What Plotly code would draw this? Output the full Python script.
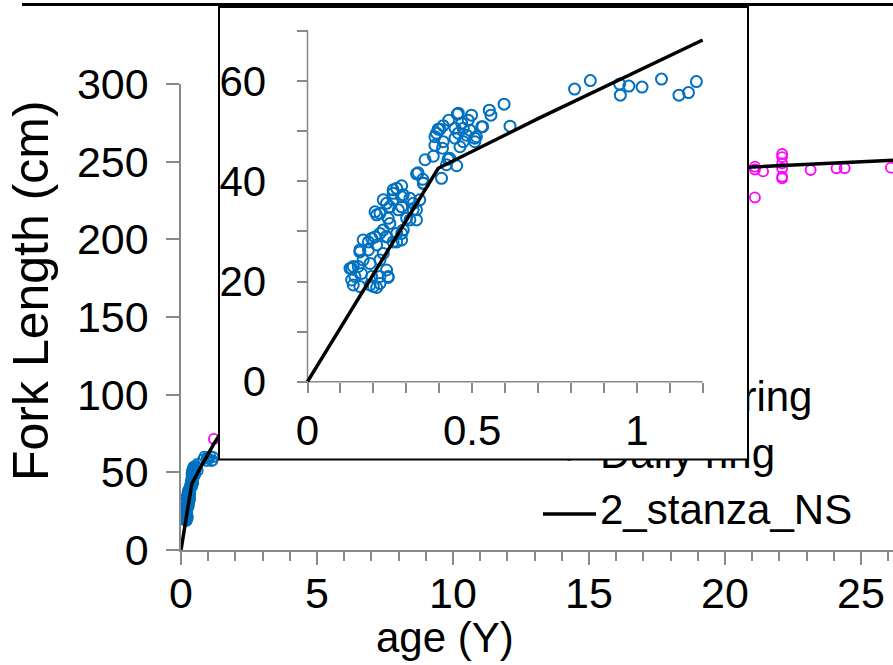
import plotly.graph_objects as go

# ---------------- data ----------------
daily_age = [0.532, 0.552, 0.557, 0.597, 0.615, 0.811, 0.859, 0.948, 0.950, 0.976, 1.016, 1.075, 1.128, 1.157, 1.181,
             0.458, 0.498, 0.488, 0.529, 0.429, 0.412, 0.397, 0.392, 0.448, 0.468, 0.473, 0.493, 0.458, 0.483, 0.508,
             0.448, 0.473, 0.463, 0.508, 0.387, 0.412, 0.387, 0.410, 0.382, 0.357, 0.427, 0.422, 0.453, 0.336, 0.350,
             0.407, 0.352, 0.286, 0.432, 0.455, 0.513, 0.402,
             0.260, 0.271, 0.230, 0.240, 0.260, 0.286, 0.311, 0.341, 0.205, 0.210, 0.286, 0.321, 0.331, 0.301, 0.245,
             0.169, 0.185, 0.230, 0.205, 0.271, 0.291, 0.286,
             0.331, 0.352, 0.260, 0.291, 0.220, 0.250, 0.276, 0.321, 0.311, 0.250, 0.195, 0.220, 0.240, 0.159, 0.185,
             0.210, 0.230, 0.271, 0.169, 0.154, 0.190, 0.220, 0.240, 0.134, 0.144, 0.164, 0.195, 0.220, 0.245, 0.139,
             0.159, 0.190, 0.210, 0.220, 0.129, 0.134, 0.200, 0.245, 0.240, 0.260, 0.331, 0.286, 0.159, 0.139]
daily_fl = [50.9, 54.2, 53.2, 55.4, 51.0, 58.4, 60.1, 59.4, 57.2, 59.0, 58.8, 60.4, 57.2, 57.7, 59.9,
            53.6, 53.2, 52.2, 50.9, 52.2, 51.1, 50.4, 49.6, 50.6, 51.6, 50.6, 50.2, 49.6, 49.2, 48.6,
            48.6, 47.9, 46.9, 47.9, 48.9, 47.9, 47.2, 46.6, 45.0, 44.3, 44.4, 43.3, 43.1, 41.7, 40.4,
            40.6, 39.6, 39.1, 44.6, 53.4, 48.9, 50.4,
            38.3, 38.6, 36.3, 35.6, 36.3, 36.9, 36.6, 36.3, 33.9, 33.3, 34.9, 34.3, 32.3, 32.6, 32.6,
            28.3, 27.9, 30.3, 28.9, 29.6, 30.3, 28.3,
            41.5, 39.6, 37.6, 37.3, 33.6, 34.9, 34.3, 35.6, 32.3, 31.6, 28.6, 29.6, 29.0, 26.3, 26.3,
            27.3, 25.6, 27.9, 24.3, 23.0, 23.6, 24.3, 22.3, 22.6, 21.0, 21.6, 21.0, 21.0, 21.0, 19.3,
            19.0, 19.3, 18.8, 19.6, 22.6, 20.3, 19.0, 20.8, 28.9, 27.9, 34.3, 29.6, 25.9, 23.0]

annual_age = [1.21, 21.1, 21.1, 21.4, 21.1, 22.1, 22.1, 22.1, 22.1, 22.1, 22.1, 23.15, 24.1, 24.4, 26.1]
annual_fl = [71.5, 246.8, 245.0, 243.8, 227.0, 255.0, 253.0, 249.0, 245.8, 240.4, 239.3, 244.7, 245.8, 245.8, 246.2]

stanza_age = [0.0, 0.2, 0.397, 0.7, 1.2, 2.0, 3.0, 5.0, 7.0, 10.0, 13.0, 16.0, 19.0, 21.0, 24.0, 26.3]
stanza_fl = [0.0, 21.5, 42.6, 52.5, 68.2, 90.0, 114.0, 152.0, 180.0, 208.0, 226.0, 237.0, 243.8, 246.6, 249.4, 251.0]

main_x_ticks = [0, 5, 10, 15, 20, 25]
main_y_ticks = [0, 50, 100, 150, 200, 250, 300]
inset_x_ticks = [0, 0.1, 0.2, 0.3, 0.4, 0.5, 0.6, 0.7, 0.8, 0.9, 1.0, 1.1, 1.2]
inset_x_labels = ["0", "", "", "", "", "0.5", "", "", "", "", "1", "", ""]
inset_y_ticks = [0, 10, 20, 30, 40, 50, 60, 70]
inset_y_labels = ["0", "", "20", "", "40", "", "60", ""]

legend_names = ["Annual ring", "Daily ring", "2_stanza_NS"]
x_title = "age (Y)"
y_title = "Fork Length (cm)"

# ---------------- geometry (pixels) ----------------
W, H = 893, 665
FONT = "Liberation Sans, Arial, sans-serif"
GRAY = "#898989"
BLUE = "#0070C0"
MAGENTA = "#FF00FF"

M_X0, M_PXX = 181.0, 27.2       # main: pixel of x=0, px per year
M_Y0, M_PXY = 550.0, 1.553      # main: pixel of y=0, px per cm
M_YMAX = 300
M_XMAX = (W - M_X0) / M_PXX

B_L, B_T, B_R, B_B = 219.0, 7.0, 748.0, 459.5   # inset box
I_X0, I_PXX = 307.5, 329.3
I_Y0, I_PXY = 381.7, 5.01


def px(x):
    return x / W


def py(y):
    return (H - y) / H


def mx(p):  # main data x from pixel
    return (p - M_X0) / M_PXX


def my(p):
    return (M_Y0 - p) / M_PXY


fig = go.Figure()

# ---- main chart ----
fig.add_trace(go.Scatter(x=daily_age, y=daily_fl, mode="markers", xaxis="x", yaxis="y", name="Daily ring",
                         marker=dict(symbol="circle-open", size=10, color=BLUE, line=dict(width=1.8, color=BLUE))))
fig.add_trace(go.Scatter(x=annual_age, y=annual_fl, mode="markers", xaxis="x", yaxis="y", name="Annual ring",
                         marker=dict(symbol="circle-open", size=10, color=MAGENTA, line=dict(width=1.8, color=MAGENTA))))
fig.add_trace(go.Scatter(x=stanza_age, y=stanza_fl, mode="lines", xaxis="x", yaxis="y", name="2_stanza_NS",
                         line=dict(color="black", width=3.5)))

# ---- hand-drawn legend in main axes (partly covered by the inset, like the original) ----
leg_rows = [401, 458, 514]
sym_x = mx(569)
fig.add_trace(go.Scatter(x=[sym_x], y=[my(leg_rows[0])], mode="markers", xaxis="x", yaxis="y",
                         marker=dict(symbol="circle-open", size=10, color=MAGENTA, line=dict(width=1.8, color=MAGENTA))))
fig.add_trace(go.Scatter(x=[sym_x], y=[my(leg_rows[1])], mode="markers", xaxis="x", yaxis="y",
                         marker=dict(symbol="circle", size=6, color=BLUE)))
fig.add_trace(go.Scatter(x=[mx(543), mx(596)], y=[my(leg_rows[2])] * 2, mode="lines", xaxis="x", yaxis="y",
                         line=dict(color="black", width=3.5)))
fig.add_trace(go.Scatter(x=[mx(600)] * 3, y=[my(r) for r in leg_rows], mode="text", xaxis="x", yaxis="y",
                         text=legend_names, textposition="middle right",
                         textfont=dict(family=FONT, size=42, color="black"), cliponaxis=False))

# ---- inset ----
inset_age = [a for a in stanza_age if a <= 1.2]
inset_fl = stanza_fl[:len(inset_age)]
fig.add_trace(go.Scatter(x=daily_age, y=daily_fl, mode="markers", xaxis="x2", yaxis="y2",
                         marker=dict(symbol="circle-open", size=11, color=BLUE, line=dict(width=2, color=BLUE))))
fig.add_trace(go.Scatter(x=inset_age, y=inset_fl, mode="lines", xaxis="x2", yaxis="y2",
                         line=dict(color="black", width=3.5)))

tickfont = dict(family=FONT, size=43, color="black")
inset_tickfont = dict(family=FONT, size=42, color="black")

fig.update_layout(
    template="none",
    width=W, height=H,
    margin=dict(l=0, r=0, t=0, b=0, pad=0, autoexpand=False),
    paper_bgcolor="white", plot_bgcolor="white",
    font=dict(family=FONT, color="black"),
    showlegend=False,
    hovermode=False,
    xaxis=dict(domain=[px(M_X0), 1.0], range=[0, M_XMAX], anchor="y", automargin=False,
               showgrid=False, zeroline=False, showline=True, linecolor=GRAY, linewidth=1.5,
               ticks="outside", ticklen=13, tickwidth=1.5, tickcolor=GRAY,
               tickmode="array", tickvals=main_x_ticks, ticktext=[str(v) for v in main_x_ticks],
               minor=dict(dtick=1, ticks="outside", ticklen=9, tickwidth=1.5, tickcolor=GRAY, showgrid=False),
               tickfont=tickfont, ticklabelstandoff=-8),
    yaxis=dict(domain=[py(M_Y0), py(M_Y0 - M_YMAX * M_PXY)], range=[0, M_YMAX], anchor="x", automargin=False,
               showgrid=False, zeroline=False, showline=True, linecolor=GRAY, linewidth=1.5,
               ticks="outside", ticklen=13, tickwidth=1.5, tickcolor=GRAY,
               tickmode="array", tickvals=main_y_ticks, ticktext=[str(v) for v in main_y_ticks],
               tickfont=tickfont, ticklabelstandoff=9),
    xaxis2=dict(domain=[px(B_L), px(B_R)],
                range=[-(I_X0 - B_L) / I_PXX, (B_R - I_X0) / I_PXX],
                anchor="free", position=py(I_Y0), automargin=False,
                showgrid=False, zeroline=False, showline=False,
                ticks="outside", ticklen=10, tickwidth=1.5, tickcolor=GRAY,
                tickmode="array", tickvals=inset_x_ticks, ticktext=inset_x_labels,
                tickfont=inset_tickfont, ticklabelstandoff=2),
    yaxis2=dict(domain=[py(B_B), py(B_T)],
                range=[-(B_B - I_Y0) / I_PXY, (I_Y0 - B_T) / I_PXY],
                anchor="free", position=px(I_X0), automargin=False,
                showgrid=False, zeroline=False, showline=False,
                ticks="outside", ticklen=11, tickwidth=1.5, tickcolor=GRAY,
                tickmode="array", tickvals=inset_y_ticks, ticktext=inset_y_labels,
                tickfont=inset_tickfont, ticklabelstandoff=22),
    annotations=[
        dict(text=y_title, xref="paper", yref="paper", x=px(31), y=py(291), textangle=-90,
             showarrow=False, xanchor="center", yanchor="middle",
             font=dict(family=FONT, size=50, color="black")),
        dict(text=x_title, xref="paper", yref="paper", x=px(445), y=py(637),
             showarrow=False, xanchor="center", yanchor="middle",
             font=dict(family=FONT, size=42, color="black")),
    ],
    shapes=[
        # inset axis lines
        dict(type="line", xref="x2", yref="y2", x0=0, x1=inset_x_ticks[-1], y0=0, y1=0,
             line=dict(color=GRAY, width=1.5), layer="below"),
        dict(type="line", xref="x2", yref="y2", x0=0, x1=0, y0=0, y1=inset_y_ticks[-1],
             line=dict(color=GRAY, width=1.5), layer="below"),
        # inset frame
        dict(type="rect", xref="paper", yref="paper", x0=px(B_L), x1=px(B_R), y0=py(B_B), y1=py(B_T),
             line=dict(color="black", width=2), fillcolor="rgba(0,0,0,0)", layer="above"),
        # top border line
        dict(type="line", xref="paper", yref="paper", x0=px(22), x1=1.0, y0=py(4.5), y1=py(4.5),
             line=dict(color="black", width=3), layer="above"),
    ],
)

fig.write_html("out.html")
